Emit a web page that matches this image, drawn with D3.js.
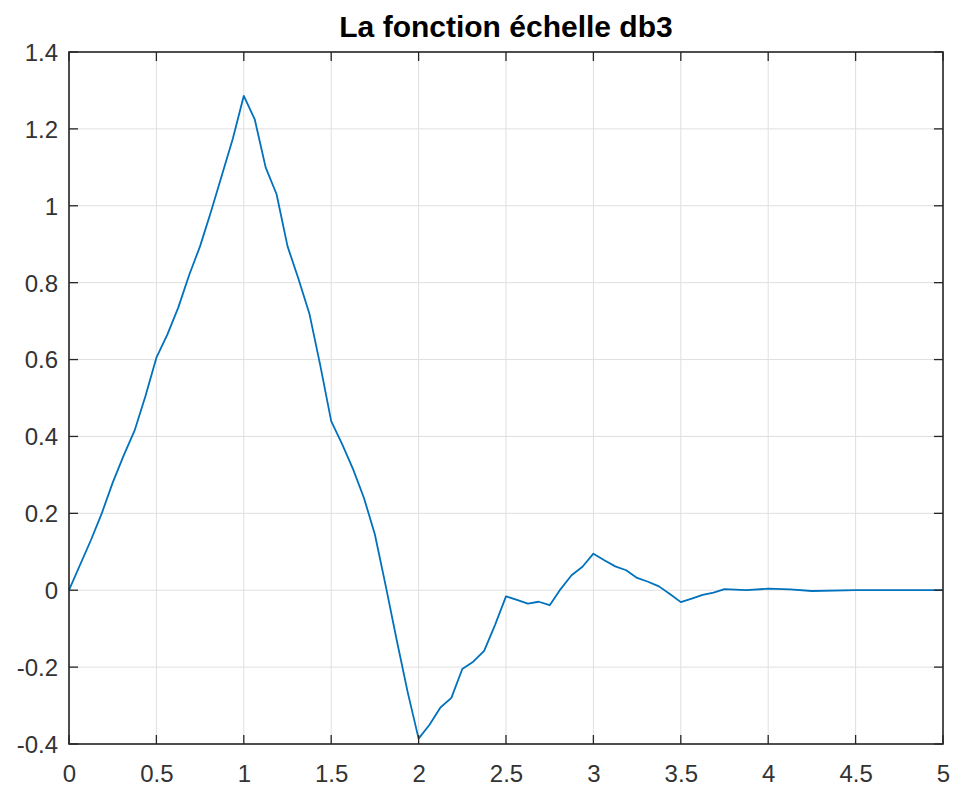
<!DOCTYPE html>
<html>
<head>
<meta charset="utf-8">
<script src="https://cdn.jsdelivr.net/npm/d3@7"></script>
<style>
  html, body { margin: 0; padding: 0; background: #fff; }
  svg { display: block; }
</style>
</head>
<body>
<svg id="chart" width="954" height="791"></svg>
<script>
// ---- Data ----
const titleText = "La fonction échelle db3";
const xValues = [0, 0.125, 0.1875, 0.25, 0.3125, 0.375, 0.4375, 0.5, 0.5625, 0.625, 0.6875, 0.75,
  0.8125, 0.875, 0.9375, 1.0, 1.0625, 1.125, 1.1875, 1.25, 1.3125, 1.375, 1.4375, 1.5,
  1.5625, 1.625, 1.6875, 1.75, 1.8125, 1.875, 1.9375, 2.0, 2.0625, 2.125, 2.1875, 2.25,
  2.3125, 2.375, 2.4375, 2.5, 2.5625, 2.625, 2.6875, 2.75, 2.8125, 2.875, 2.9375, 3.0,
  3.0625, 3.125, 3.1875, 3.25, 3.3125, 3.375, 3.4375, 3.5, 3.5625, 3.625, 3.6875, 3.75,
  3.875, 4.0, 4.125, 4.25, 4.5, 4.75, 5.0];
const yValues = [0, 0.13, 0.20, 0.28, 0.35, 0.415, 0.505, 0.605, 0.665, 0.735, 0.82, 0.895,
  0.985, 1.08, 1.175, 1.286, 1.225, 1.10, 1.03, 0.895, 0.81, 0.72, 0.585, 0.44,
  0.38, 0.315, 0.24, 0.145, 0.01, -0.13, -0.265, -0.386, -0.35, -0.305, -0.28, -0.205,
  -0.186, -0.158, -0.09, -0.016, -0.025, -0.035, -0.03, -0.039, 0.003, 0.039, 0.061, 0.095,
  0.078, 0.062, 0.052, 0.032, 0.022, 0.010, -0.01, -0.031, -0.022, -0.012, -0.006, 0.003,
  0.0, 0.004, 0.002, -0.002, 0.0, 0.0, 0.0];
const xTicks = [0, 0.5, 1, 1.5, 2, 2.5, 3, 3.5, 4, 4.5, 5];
const xTickLabels = ["0", "0.5", "1", "1.5", "2", "2.5", "3", "3.5", "4", "4.5", "5"];
const yTicks = [-0.4, -0.2, 0, 0.2, 0.4, 0.6, 0.8, 1, 1.2, 1.4];
const yTickLabels = ["-0.4", "-0.2", "0", "0.2", "0.4", "0.6", "0.8", "1", "1.2", "1.4"];

// ---- Layout ----
const pLeft = 69, pRight = 943, pTop = 52, pBottom = 744;
const axisColor = "#262626";
const labelColor = "#333333";
const gridColor = "#dfdfdf";
const lineColor = "#0072BD";
const tickLen = 9;
const font = "'Liberation Sans', Arial, Helvetica, sans-serif";

const svg = d3.select("#chart");
const x = d3.scaleLinear().domain([0, 5]).range([pLeft, pRight]);
const y = d3.scaleLinear().domain([-0.4, 1.4]).range([pBottom, pTop]);

// grid
const grid = svg.append("g");
grid.selectAll(".gx").data(xTicks).enter().append("line")
  .attr("x1", d => x(d)).attr("x2", d => x(d))
  .attr("y1", pTop).attr("y2", pBottom)
  .attr("stroke", gridColor).attr("stroke-width", 1);
grid.selectAll(".gy").data(yTicks).enter().append("line")
  .attr("x1", pLeft).attr("x2", pRight)
  .attr("y1", d => y(d)).attr("y2", d => y(d))
  .attr("stroke", gridColor).attr("stroke-width", 1);

// data line
const pts = xValues.map((v, i) => [v, yValues[i]]);
svg.append("path")
  .datum(pts)
  .attr("fill", "none")
  .attr("stroke", lineColor)
  .attr("stroke-width", 1.8)
  .attr("stroke-linejoin", "round")
  .attr("d", d3.line().x(d => x(d[0])).y(d => y(d[1])));

// axes labels (ticks drawn separately, inward)
const xAxisB = d3.axisBottom(x).tickValues(xTicks).tickSize(0).tickFormat((d, i) => xTickLabels[i]);
const gxb = svg.append("g").attr("transform", `translate(0,${pBottom})`).call(xAxisB);
gxb.select(".domain").remove();
gxb.selectAll("text").attr("font-family", font).attr("font-size", 24)
  .attr("fill", labelColor).attr("dy", null).attr("y", 38);

const yAxisL = d3.axisLeft(y).tickValues(yTicks).tickSize(0).tickFormat((d, i) => yTickLabels[i]);
const gyl = svg.append("g").attr("transform", `translate(${pLeft},0)`).call(yAxisL);
gyl.select(".domain").remove();
gyl.selectAll("text").attr("font-family", font).attr("font-size", 24)
  .attr("fill", labelColor).attr("x", -11).attr("dy", "0.35em");

// tick marks on all four sides (inward)
const ticks = svg.append("g").attr("stroke", axisColor).attr("stroke-width", 1.3);
xTicks.forEach(v => {
  ticks.append("line").attr("x1", x(v)).attr("x2", x(v)).attr("y1", pBottom).attr("y2", pBottom - tickLen);
  ticks.append("line").attr("x1", x(v)).attr("x2", x(v)).attr("y1", pTop).attr("y2", pTop + tickLen);
});
yTicks.forEach(v => {
  ticks.append("line").attr("x1", pLeft).attr("x2", pLeft + tickLen).attr("y1", y(v)).attr("y2", y(v));
  ticks.append("line").attr("x1", pRight).attr("x2", pRight - tickLen).attr("y1", y(v)).attr("y2", y(v));
});

// box
svg.append("rect")
  .attr("x", pLeft).attr("y", pTop)
  .attr("width", pRight - pLeft).attr("height", pBottom - pTop)
  .attr("fill", "none").attr("stroke", axisColor).attr("stroke-width", 1.6);

// title
svg.append("text")
  .attr("x", (pLeft + pRight) / 2).attr("y", 37)
  .attr("text-anchor", "middle")
  .attr("font-family", font).attr("font-size", 30).attr("font-weight", "bold")
  .attr("fill", "#000")
  .text(titleText);
</script>
</body>
</html>
